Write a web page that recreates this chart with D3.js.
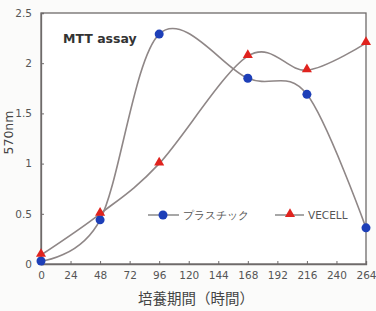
<!DOCTYPE html>
<html>
<head>
<meta charset="utf-8">
<script src="https://cdn.jsdelivr.net/npm/d3@7"></script>
<style>
  body { margin: 0; background: #fbfbfa; }
  text { font-family: "DejaVu Sans", sans-serif; }
</style>
</head>
<body>
<div id="chart"></div>
<script>
// data
const hours = [0, 48, 96, 168, 216, 264];
const plastic = [0.03, 0.44, 2.29, 1.85, 1.69, 0.36];
const vecell = [0.09, 0.50, 1.00, 2.07, 1.93, 2.20];
const xTicks = [0, 24, 48, 72, 96, 120, 144, 168, 192, 216, 240, 264];
const yTicks = [0, 0.5, 1, 1.5, 2, 2.5];
const seriesNames = ["プラスチック", "VECELL"];

let margin = {top: 13, right: 10, bottom: 47, left: 41},
    width = 376 - margin.left - margin.right,
    height = 311 - margin.top - margin.bottom;

const svg = d3.select("#chart")
  .append("svg")
    .attr("width", 376)
    .attr("height", 311)
  .append("g")
    .attr("transform", "translate(" + margin.left + "," + margin.top + ")");

let x = d3.scaleLinear().domain([0, 264]).range([0, width]);
let y = d3.scaleLinear().domain([0, 2.5]).range([height, 0]);

// frame
svg.append("rect")
  .attr("width", width)
  .attr("height", height)
  .attr("fill", "#ffffff")
  .attr("stroke", "#6e6a6a")
  .attr("stroke-width", 1.3);

// axes, ticks pointing inward
let xAxis = svg.append("g")
  .attr("transform", "translate(0," + height + ")")
  .call(d3.axisBottom(x).tickValues(xTicks).tickSize(-3).tickPadding(8));
let yAxis = svg.append("g")
  .call(d3.axisLeft(y).tickValues(yTicks).tickSize(-3).tickPadding(9)
    .tickFormat(d => d3.format("")(d)));

[xAxis, yAxis].forEach(a => {
  a.select(".domain").attr("stroke", "#6e6a6a").attr("stroke-width", 1.3);
  a.selectAll(".tick line").attr("stroke", "#6e6a6a");
  a.selectAll(".tick text")
    .attr("fill", "#555")
    .style("font-size", "10.5px");
});

// curves
let line = d3.line()
  .x((d, i) => x(hours[i]))
  .y(d => y(d))
  .curve(d3.curveCatmullRom.alpha(0));

[plastic, vecell].forEach(s => {
  svg.append("path")
    .datum(s)
    .attr("d", line)
    .attr("fill", "none")
    .attr("stroke", "#8f8787")
    .attr("stroke-width", 1.6);
});

const tri = d3.symbol().type(d3.symbolTriangle).size(44);

// markers
svg.append("g")
  .selectAll("circle")
  .data(plastic)
  .enter()
  .append("circle")
    .attr("cx", (d, i) => x(hours[i]))
    .attr("cy", d => y(d))
    .attr("r", 4.5)
    .attr("fill", "#1d3fb8");

svg.append("g")
  .selectAll("path")
  .data(vecell)
  .enter()
  .append("path")
    .attr("d", tri)
    .attr("transform", (d, i) => "translate(" + x(hours[i]) + "," + (y(d) - 1) + ")")
    .attr("fill", "#e0231e");

// title in the plot
svg.append("text")
  .attr("x", 22)
  .attr("y", 30)
  .style("font-size", "12.5px")
  .style("font-weight", "bold")
  .attr("fill", "#333")
  .text("MTT assay");

// legend
let leg = svg.append("g").attr("transform", "translate(0,202)");
leg.append("line").attr("x1", 107).attr("x2", 138).attr("stroke", "#777").attr("stroke-width", 1.3);
leg.append("circle").attr("cx", 122).attr("r", 4.5).attr("fill", "#1d3fb8");
leg.append("text").attr("x", 142).attr("y", 4).style("font-size", "11px").attr("fill", "#555").text(seriesNames[0]);
leg.append("line").attr("x1", 234).attr("x2", 263).attr("stroke", "#777").attr("stroke-width", 1.3);
leg.append("path").attr("d", tri).attr("transform", "translate(249,-1)").attr("fill", "#e0231e");
leg.append("text").attr("x", 267).attr("y", 4).style("font-size", "10.5px").attr("fill", "#555").text(seriesNames[1]);

// axis titles
svg.append("text")
  .attr("x", 155)
  .attr("y", height + 40)
  .attr("text-anchor", "middle")
  .style("font-size", "14.5px")
  .style("font-family", "'Noto Sans CJK JP', sans-serif")
  .attr("fill", "#444")
  .text("培養期間（時間）");

svg.append("text")
  .attr("transform", "rotate(-90)")
  .attr("x", -(height / 2) + 6)
  .attr("y", -28)
  .attr("text-anchor", "middle")
  .style("font-size", "12.5px")
  .attr("fill", "#444")
  .text("570nm");
</script>
</body>
</html>
